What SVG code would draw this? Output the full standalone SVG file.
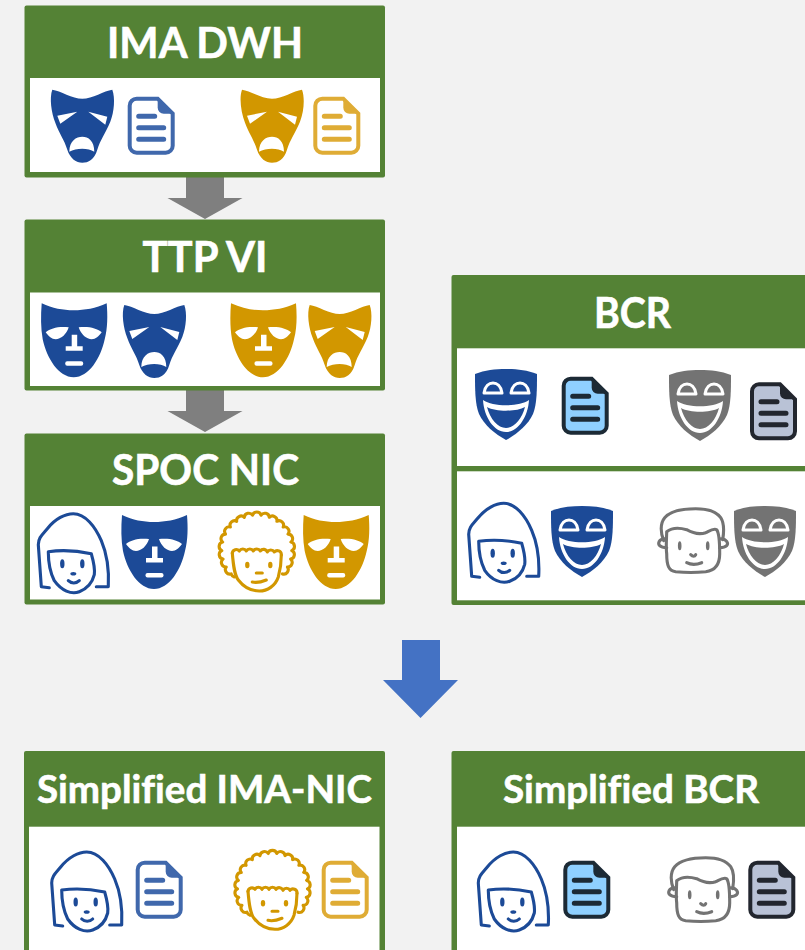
<svg xmlns="http://www.w3.org/2000/svg" width="805" height="950" viewBox="0 0 805 950">
<style>
.title{font-family:"Lato","Liberation Sans",sans-serif;font-weight:700;fill:#fff;stroke:#fff;stroke-width:.6;text-anchor:middle;font-variant-ligatures:none}
.big{font-size:42px}.small{font-size:39px}
.green{fill:#548235}.white{fill:#fff}
.blue{color:#1C4A97}.gold{color:#D29700}.grey{color:#737373}
.fw{fill:#fff}.fc{fill:currentColor}
.line{fill:none;stroke:currentColor;stroke-width:3.1;stroke-linecap:round;stroke-linejoin:round}
.hw{fill:none;stroke:#fff;stroke-width:3;stroke-linejoin:round}
.dl{stroke-width:5;stroke-linecap:round;fill:none}
.doc-blue{--a:#3F68AC;--b:#fff}.doc-gold{--a:#DFAC35;--b:#fff}.doc-sky{--a:#1C2A36;--b:#8FD0FF}.doc-slate{--a:#22262E;--b:#B9C2D6}
</style>
<defs>
<filter id="soft" x="-5%" y="-5%" width="110%" height="110%"><feGaussianBlur stdDeviation="0.5"/></filter>
<g id="sad">
<path class="fc" d="M2 0C10 1 22 9 32 9C42 9 54 1 62 0C65 8 64 22 60 32C55 44 50 50 47 60C44 70 38 73 32 73C26 73 20 69 17 60C14 50 9 44 5 33C1 23-1 8 2 0Z"/>
<path class="fw" d="M7 26L27 22L10 34ZM38 22L57 27L55 35ZM19 62C19 51 26 47 32 47C38 47 44 51 44 62C38 58 26 58 19 62Z"/>
</g>
<g id="neutral">
<path class="fc" d="M1 0C12 5 22 7 33 7C44 7 55 5 66 0C67 12 67 25 64 36C60 55 48 74 33 74C18 74 6 55 2 36C0 25 0 12 1 0Z"/>
<path class="fw" d="M5 29C10 25 17 23 28 24C26 31 20 36 15 36C11 36 8 33 5 29ZM61 29C56 25 49 23 38 24C40 31 46 36 51 36C55 36 58 33 61 29ZM31 31.500H36.500V43H42V47.500H25V43H31Z"/>
<rect class="fw" x="24.500" y="58" width="18" height="4.500" rx="2"/>
</g>
<g id="happy">
<path class="fc" d="M0 5C10 1 20 0 31 0C42 0 52 1 62 5C62 20 62 35 58 45C53 56 42 65 31 71C20 65 9 56 4 45C0 35 0 20 0 5Z"/>
<path class="hw" d="M9 24C10 17 14 14 18 14C22 14 26 17 27 24ZM36 24C37 17 41 14 45 14C49 14 53 17 54 24Z"/>
<path class="fw" d="M8 31C18 38 44 38 54 31C53 48 43 63 31 63C19 63 9 48 8 31Z"/>
<path class="fc" d="M12 38C21 43 41 43 50 38C47 50 39 59 31 59C23 59 15 50 12 38Z"/>
</g>
<g id="doc" filter="url(#soft)">
<path d="M9 2H30L45 17V49A7 7 0 0 1 38 56H9A7 7 0 0 1 2 49V9A7 7 0 0 1 9 2Z" style="fill:var(--b);stroke:var(--a);stroke-width:4"/>
<path d="M30 2L45 17H36A6 6 0 0 1 30 11Z" style="fill:var(--a)"/>
<path class="dl" d="M11 19.500H27M11 31H36M11 42.500H36" style="stroke:var(--a)"/>
</g>
<g id="woman">
<path class="line" d="M12 75L4 74L1 32C1 25 5 22 10 16C18 6 28 1 36 1C48 1 58 14 64 28C70 42 72 55 71 74L59 74"/>
<path class="line" d="M11 39C25 37 40 38 54 41C56 48 58 55 57 62C55 70 50 76 42 79C34 82 24 78 17 68C14 62 11 50 11 39Z"/>
<ellipse class="fc" cx="25" cy="51" rx="2.200" ry="4.500"/><ellipse class="fc" cx="45" cy="51" rx="2.200" ry="4.500"/>
<ellipse class="fc" cx="36" cy="61" rx="3" ry="1.800"/>
<path class="line" d="M31 68C34 71 39 71 42 68"/>
</g>
<g id="afro">
<path class="line" d="M15 62A4.500 4.500 0 0 1 11.900 58.900A4.500 4.500 0 0 1 6.900 52A4.500 4.500 0 0 1 3.700 44.100A4.500 4.500 0 0 1 2.500 35.600A4.500 4.500 0 0 1 3.400 27.100A4.500 4.500 0 0 1 6.300 19.100A4.500 4.500 0 0 1 11.100 12A4.500 4.500 0 0 1 17.400 6.300A4.500 4.500 0 0 1 25 2.300A4.500 4.500 0 0 1 33.200 .2A4.500 4.500 0 0 1 41.800 .2A4.500 4.500 0 0 1 50 2.300A4.500 4.500 0 0 1 57.600 6.300A4.500 4.500 0 0 1 63.900 12A4.500 4.500 0 0 1 68.700 19.100A4.500 4.500 0 0 1 71.600 27.100A4.500 4.500 0 0 1 72.500 35.600A4.500 4.500 0 0 1 71.300 44.100A4.500 4.500 0 0 1 68.100 52A4.500 4.500 0 0 1 63.100 58.900"/>
<path class="line" d="M13 38C14 50 15 60 19 65C26 74 33 76 40 76C48 76 56 71 59 62C61 55 62 48 62 40"/>
<path class="line" d="M13 38A4 4 0 0 1 20 36A4 4 0 0 1 27 36A4 4 0 0 1 34 36A4 4 0 0 1 41 36A4 4 0 0 1 48 37A4 4 0 0 1 55 37A4 4 0 0 1 62 40"/>
<ellipse class="fc" cx="28" cy="50" rx="2.200" ry="3.200"/><ellipse class="fc" cx="51" cy="50" rx="2.200" ry="3.200"/>
<path class="line" d="M37 58H43M33 67C37 68 42 67 47 65"/>
</g>
<g id="man">
<path class="line" d="M6 33C3 26 2 16 7 10C14 2 30 1 38 1C48 1 58 3 63 10C67 16 66 26 65 32"/>
<path class="line" d="M9 24C14 20 22 20 29 22C36 26 42 27 48 25C52 23 56 20 59 22C62 26 62 36 62 46C62 58 56 63 48 64C38 65 28 65 18 64C11 63 9 58 9 46C8 38 9 30 9 24Z"/>
<path class="line" d="M7 31C1 31 0 36 2 38C4 40 7 40 9 40M63 31C69 31 71 36 69 38C67 40 65 40 62 40"/>
<ellipse class="fc" cx="22" cy="38" rx="1.800" ry="4.500"/><ellipse class="fc" cx="50" cy="38" rx="1.800" ry="4.500"/>
<path class="line" d="M33 47C35 49 37 49 38 47M29 55C33 57 39 57 44 55"/>
</g>
</defs>
<rect width="805" height="950" fill="#F2F2F2"/>
<g id="connectors">
<path fill="#7F7F7F" d="M186 177H224V198H242.500L205 219L167.500 198H186Z"/>
<path fill="#7F7F7F" d="M186 390H224V411H242.500L205 432L167.500 411H186Z"/>
<path fill="#4472C4" d="M402 640H440V680H458L420.500 718L383 680H402Z"/>
</g>
<g id="ima-dwh">
<rect class="green" x="24.500" y="5.500" width="360.500" height="172" rx="2"/>
<rect class="white" x="30" y="78" width="350" height="94"/>
<text class="title big" x="205" y="58" textLength="196" lengthAdjust="spacingAndGlyphs">IMA DWH</text>
<use href="#sad" x="50.300" y="89.700" class="blue"/>
<use href="#doc" x="127.700" y="96.700" class="doc-blue"/>
<use href="#sad" x="240" y="89.700" class="gold"/>
<use href="#doc" x="313.300" y="96.700" class="doc-gold"/>
</g>
<g id="ttp-vi">
<rect class="green" x="24.500" y="219.500" width="360.500" height="171" rx="2"/>
<rect class="white" x="30" y="292.500" width="350" height="93.500"/>
<text class="title big" x="205" y="272" textLength="125" lengthAdjust="spacingAndGlyphs">TTP VI</text>
<use href="#neutral" x="40.700" y="303.300" class="blue"/>
<use href="#sad" x="122.300" y="305" class="blue"/>
<use href="#neutral" x="230" y="303.300" class="gold"/>
<use href="#sad" x="307.700" y="305" class="gold"/>
</g>
<g id="spoc-nic">
<rect class="green" x="24.500" y="433.500" width="360.500" height="171" rx="2"/>
<rect class="white" x="30" y="506" width="350" height="93.500"/>
<text class="title big" x="205.500" y="485" textLength="187" lengthAdjust="spacingAndGlyphs">SPOC NIC</text>
<use href="#woman" x="37.300" y="512.700" class="blue"/>
<use href="#neutral" x="121" y="515" class="blue"/>
<use href="#afro" x="219.300" y="515" class="gold"/>
<use href="#neutral" x="302.700" y="515" class="gold"/>
</g>
<g id="bcr">
<rect class="green" x="451.500" y="275" width="360" height="330" rx="2"/>
<rect class="white" x="457" y="348.300" width="348" height="117.700"/>
<rect class="white" x="457" y="471.300" width="348" height="129"/>
<text class="title big" x="632.500" y="328" textLength="77" lengthAdjust="spacingAndGlyphs">BCR</text>
<use href="#happy" x="475" y="369" class="blue"/>
<use href="#doc" x="561.700" y="376.700" class="doc-sky"/>
<use href="#happy" x="669" y="370" class="grey"/>
<use href="#doc" x="750" y="382.300" class="doc-slate"/>
<use href="#woman" x="467.700" y="502.300" class="blue"/>
<use href="#happy" x="551" y="506" class="blue"/>
<use href="#man" x="657.700" y="507.700" class="grey"/>
<use href="#happy" x="734" y="506" class="grey"/>
</g>
<g id="simplified-ima-nic">
<rect class="green" x="24" y="751" width="361" height="210" rx="2"/>
<rect class="white" x="29" y="826.700" width="350.500" height="130"/>
<text class="title small" x="204.500" y="803" textLength="335" lengthAdjust="spacingAndGlyphs">Simplified IMA-NIC</text>
<use href="#woman" x="50.700" y="851" class="blue"/>
<use href="#doc" x="135.700" y="860.700" class="doc-blue"/>
<use href="#afro" x="235" y="853.300" class="gold"/>
<use href="#doc" x="321.700" y="860.700" class="doc-gold"/>
</g>
<g id="simplified-bcr">
<rect class="green" x="451.500" y="751" width="360" height="210" rx="2"/>
<rect class="white" x="457" y="826.700" width="348" height="130"/>
<text class="title small" x="631" y="803" textLength="256" lengthAdjust="spacingAndGlyphs">Simplified BCR</text>
<use href="#woman" x="477.300" y="851" class="blue"/>
<use href="#doc" x="563.300" y="860.700" class="doc-sky"/>
<use href="#man" x="667.700" y="856.700" class="grey"/>
<use href="#doc" x="748.300" y="860.700" class="doc-slate"/>
</g>
</svg>
